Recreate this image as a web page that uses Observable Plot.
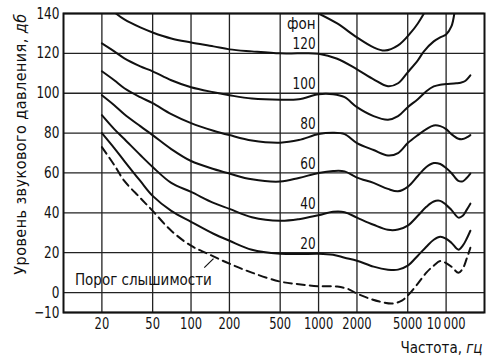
<!DOCTYPE html>
<html><head><meta charset="utf-8">
<script src="https://cdn.jsdelivr.net/npm/d3@7"></script>
<script src="https://cdn.jsdelivr.net/npm/@observablehq/plot@0.6"></script>
<style>
body{margin:0;background:#fff;}
</style></head><body><div id="chart"></div>
<script>
const FONT = '"Liberation Sans Narrow","DejaVu Sans Condensed","Roboto Condensed","DejaVu Sans",sans-serif';

// axis ticks
const xTicks = [20, 50, 100, 200, 500, 1000, 2000, 5000, 10000];
const xTickLabels = ["20", "50", "100", "200", "500", "1000", "2000", "5000", "10\u2009000"];
const yTicks = [140, 120, 100, 80, 60, 40, 20, 0, -10];
const yTickLabels = ["140", "120", "100", "80", "60", "40", "20", "0", "\u221210"];

// equal-loudness contours (frequency, Hz / level, dB)
const thrF = [20, 25, 30, 40, 50, 70, 100, 135, 200, 300, 500, 700, 1000, 1400, 1700, 2000, 2500, 3000, 3800, 4500, 5000, 6000, 7000, 8000, 9000, 10000, 11000, 12500, 13500, 14500, 15500];
const thrL = [73, 64, 56, 47.5, 41, 31, 23.5, 19.5, 14.5, 10, 5.5, 4.2, 3.2, 3, 1.8, -0.5, -3, -4.5, -5.5, -4, -1.5, 4.5, 10, 13.5, 15.8, 14.8, 13, 10, 12, 17, 22.5];

const p20F = [20, 25, 30, 40, 50, 70, 100, 150, 200, 300, 500, 700, 1000, 1300, 1600, 2000, 2700, 3500, 4200, 5000, 6000, 7000, 8000, 9000, 10000, 11000, 12500, 13500, 14500, 15500];
const p20L = [80, 72.5, 66, 56, 48.5, 41, 35.5, 29.5, 26, 21.5, 19.5, 19.3, 19.5, 19, 17.5, 16, 13, 11.5, 11.5, 13.5, 18.5, 23, 26.5, 28, 27, 25, 21.5, 23.5, 27, 31];

const p40F = [20, 25, 30, 40, 50, 70, 100, 150, 200, 300, 500, 700, 1000, 1300, 1600, 2000, 2700, 3500, 4200, 5000, 6000, 7000, 8000, 9000, 10000, 11000, 12500, 13500, 14500, 15500];
const p40L = [89, 82, 77, 69, 63, 55, 50.5, 45, 42, 37.8, 36, 36.8, 38.8, 40.5, 40.3, 37.6, 34, 31.5, 31.6, 33.6, 38.5, 43, 45.7, 46, 44, 41.5, 37.6, 38.5, 41.5, 44.6];

const p60F = [20, 25, 30, 40, 50, 70, 100, 150, 200, 300, 500, 700, 1000, 1300, 1600, 2000, 2700, 3500, 4200, 5000, 6000, 7000, 8000, 9000, 10000, 11000, 12500, 13500, 14500, 15500];
const p60L = [99, 94, 89.5, 83.5, 79, 72, 66, 62, 59.7, 56.8, 55.7, 57.5, 60, 61, 60.8, 57.7, 55, 52, 50.8, 53, 58.5, 63, 65, 64.5, 62.5, 60, 56, 55.8, 57.5, 59.7];

const p80F = [20, 25, 30, 40, 50, 70, 100, 150, 200, 300, 500, 700, 1000, 1300, 1600, 2000, 2700, 3500, 4200, 5000, 6000, 7000, 8000, 9000, 10000, 11000, 12500, 13500, 14500, 15500];
const p80L = [111, 106.5, 102.5, 98, 95, 89.5, 85, 81.2, 79, 76.3, 75.2, 76.5, 79.5, 80.2, 79.5, 75, 71.5, 68.8, 70, 75, 79, 82, 83.8, 83.5, 82, 79.5, 77.2, 77, 77.8, 79];

const p100F = [20, 25, 30, 40, 50, 70, 100, 150, 200, 300, 500, 700, 1000, 1300, 1600, 2000, 2700, 3500, 4200, 5000, 6000, 7000, 8000, 9000, 10000, 12000, 13000, 14000, 15500];
const p100L = [125, 121, 117.5, 113.5, 111, 106.5, 103, 100.5, 99, 97.3, 96.7, 97, 99.5, 99.5, 98, 93, 88.5, 86.7, 88.5, 93, 97, 101, 103.4, 104.3, 104.6, 105, 105.3, 106, 109];

const p120F = [25.8, 30, 40, 50, 70, 100, 150, 200, 300, 500, 700, 1000, 1400, 2000, 2700, 3500, 4200, 5000, 6000, 6700, 8000, 9000, 10000, 11000, 11600];
const p120L = [140, 137, 133, 130.5, 127.5, 125.5, 123.5, 122, 121, 120, 120, 119.8, 117.3, 112, 107, 103.5, 105, 110.5, 116.5, 121, 126, 128, 129.5, 133.5, 140];

const p140F = [1000, 1400, 2000, 2700, 3300, 4200, 5300, 6000, 6700];
const p140L = [140, 135, 128, 123, 121.4, 124, 130.5, 135, 140];

// curve labels (phon values, written at 1000 Hz)
const phonLevels = [120, 100, 80, 60, 40, 20];
const phonLabels = ["120", "100", "80", "60", "40", "20"];
const unitLabel = "фон";
const thresholdLabel = "Порог слышимости";
const thresholdLabelF = 12.3, thresholdLabelL = 4;
const leaderF = [127, 150], leaderL = [12.5, 17];

const yTitle = "Уровень звукового давления, ";
const yTitleUnit = "дб";
const xTitle = "Частота, ";
const xTitleUnit = "гц";

const rows = (F, L) => F.map((f, i) => ({f, L: L[i]}));
const solid = [[p20F, p20L], [p40F, p40L], [p60F, p60L], [p80F, p80L], [p100F, p100L], [p120F, p120L], [p140F, p140L]];
const INK = "#111";

const plot = Plot.plot({
  width: 500, height: 360,
  marginLeft: 63, marginRight: 16, marginTop: 13, marginBottom: 48,
  style: {fontFamily: FONT, fontSize: "15px", color: INK, background: "#fff", overflow: "visible"},
  x: {type: "log", domain: [10, 20000], label: null, axis: null},
  y: {domain: [-10, 140], label: null, axis: null},
  marks: [
    Plot.gridX(xTicks, {stroke: "#222", strokeOpacity: 1, strokeWidth: 1.3}),
    Plot.gridY(yTicks, {stroke: "#222", strokeOpacity: 1, strokeWidth: 1.3}),
    Plot.frame({stroke: INK, strokeWidth: 2}),
    Plot.text(xTicks, {x: d => d, frameAnchor: "bottom", text: (d, i) => xTickLabels[i], lineAnchor: "top", dy: 5, fontSize: 16, fill: INK, className: "narrowx"}),
    Plot.text(yTicks, {y: d => d, frameAnchor: "left", text: (d, i) => yTickLabels[i], textAnchor: "end", dx: -4, fontSize: 16, fill: INK, className: "narrow"}),
    ...solid.map(([F, L]) => Plot.line(rows(F, L), {x: "f", y: "L", curve: "catmull-rom", stroke: INK, strokeWidth: 2, clip: true})),
    Plot.line(rows(thrF, thrL), {x: "f", y: "L", curve: "catmull-rom", stroke: INK, strokeWidth: 2, strokeDasharray: "8,5", clip: true}),
    Plot.text(phonLevels, {x: () => 1000, y: d => d, text: (d, i) => phonLabels[i], textAnchor: "end", lineAnchor: "bottom", dx: -3, dy: -4, fontSize: 16, fill: INK, className: "narrow"}),
    Plot.text([unitLabel], {x: () => 1000, y: () => phonLevels[0], text: d => d, textAnchor: "end", lineAnchor: "bottom", dx: -3, dy: -24, fontSize: 15, fill: INK}),
    Plot.text([thresholdLabel], {x: () => thresholdLabelF, y: () => thresholdLabelL, text: d => d, textAnchor: "start", lineAnchor: "bottom", fontSize: 15, fill: INK}),
    Plot.link([0], {x1: () => leaderF[0], y1: () => leaderL[0], x2: () => leaderF[1], y2: () => leaderL[1], stroke: INK, strokeWidth: 1.2}),
    Plot.text([yTitle], {frameAnchor: "top-left", text: d => d, rotate: -90, textAnchor: "end", lineAnchor: "middle", dx: -43, fontSize: 16, fill: INK, className: "ytitle"}),
    Plot.text([xTitle], {frameAnchor: "bottom-right", text: d => d, textAnchor: "end", lineAnchor: "bottom", dx: -2, dy: 40, fontSize: 15, fill: INK, className: "xtitle"})
  ]
});
document.getElementById("chart").appendChild(plot);

// condensed look for numeric labels: squeeze horizontally around each anchor
function squeeze(sel, k) {
  d3.select(plot).selectAll(sel).each(function() {
    const t = d3.select(this);
    const tr = t.attr("transform");
    if (tr) {
      t.attr("transform", tr + ` scale(${k},1)`);
    } else {
      const x = +t.attr("x") || 0, y = +t.attr("y") || 0;
      t.attr("x", null).attr("y", null).attr("transform", `translate(${x},${y}) scale(${k},1)`);
    }
  });
}
squeeze(".narrow text", 0.84);
squeeze(".narrowx text", 0.8);

// italic units
d3.select(plot).selectAll(".ytitle text").each(function() {
  const t = d3.select(this); t.text(null).attr("letter-spacing", "0.45px");
  t.append("tspan").text(yTitle);
  t.append("tspan").attr("font-style", "italic").text(yTitleUnit);
});
d3.select(plot).selectAll(".xtitle text").each(function() {
  const t = d3.select(this); t.text(null);
  t.append("tspan").text(xTitle);
  t.append("tspan").attr("font-style", "italic").text(xTitleUnit);
});
</script></body></html>
